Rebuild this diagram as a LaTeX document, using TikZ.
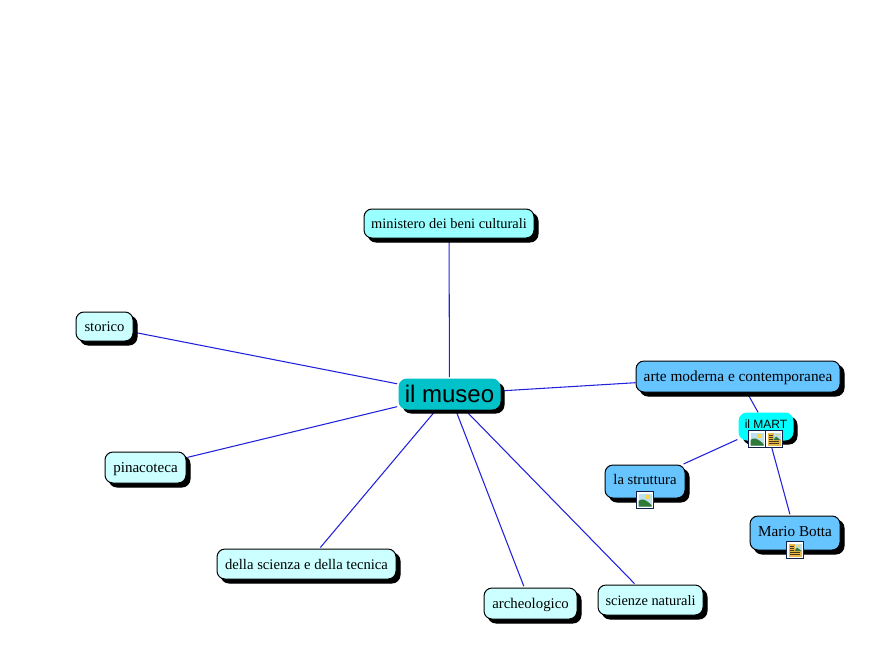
\documentclass[tikz,border=0pt]{standalone}
\usepackage{fontspec}
\setmainfont{Liberation Serif}
\newfontfamily\sansf{Liberation Sans}
\usetikzlibrary{shadows,backgrounds}
\definecolor{cLight}{HTML}{CCFFFF}
\definecolor{cMin}{HTML}{99FFFF}
\definecolor{cBlue}{HTML}{66C4FF}
\definecolor{cCore}{HTML}{00C2C8}
\definecolor{cMart}{HTML}{00FFFF}
\definecolor{cEdge}{HTML}{2222DD}
\definecolor{cNavy}{HTML}{10204A}
\definecolor{cSky}{HTML}{BFE0F0}
\definecolor{cHill}{HTML}{2F7A3A}
\definecolor{cSun}{HTML}{F5D94A}
\definecolor{cDoc}{HTML}{E8B84A}
\newcommand\lab[2]{\raisebox{#1}[0pt][0pt]{#2}}
\newcommand\fs[1]{\fontsize{#1}{13pt}\selectfont}
\tikzset{
  x=0.75pt,y=-0.75pt,
  mapbox/.style={rounded corners=6pt,inner sep=0pt,draw=black,line width=0.75pt,
    copy shadow={shadow xshift=3pt,shadow yshift=-3pt,fill=black,draw=black},
    font=\fs{10.5pt}},
  light/.style={mapbox,fill=cLight},
  blue/.style={mapbox,fill=cBlue},
  link/.style={draw=cEdge,line width=0.8pt},
  iconbox/.style={draw=cNavy,fill=white,line width=1.1pt,minimum width=12.5pt,minimum height=12.5pt,inner sep=0pt},
  pics/landscape/.style={code={
    \fill[cSky] (-6.5,-6.5) rectangle (6.5,6.5);
    \fill[cSun] (2.5,-3) circle (2.4);
    \fill[cHill] (-6.5,6.5) -- (-6.5,1) .. controls (-3,-2) and (0,-1) .. (6.5,5) -- (6.5,6.5) -- cycle;
  }},
  pics/document/.style={code={
    \fill[cDoc] (-6.5,-6.5) rectangle (6.5,6.5);
    \fill[cSky] (-0.5,-6.5) rectangle (6.5,1);
    \fill[cSun] (3.5,-4) circle (1.4);
    \fill[cHill] (-0.5,1) -- (2,-2.5) -- (6.5,1) -- cycle;
    \draw[black!70!cDoc,line width=0.45pt] (-5,-4) -- (-1.5,-4) (-5,-2) -- (-1.5,-2) (-5,0) -- (-1.5,0) (-5,2.5) -- (5,2.5) (-5,4.5) -- (5,4.5);
  }},
}
\begin{document}
\begin{tikzpicture}
\useasboundingbox (0,0) rectangle (880,660);
\node[mapbox,fill=cMin,minimum width=127.5pt,minimum height=21.75pt,font=\fs{10.8pt}] (min) at (449,223.5) {\lab{-4pt}{ministero dei beni culturali}};
\node[light,minimum width=42.75pt,minimum height=21.75pt,font=\fs{11pt}] (sto) at (104.5,326.5) {\lab{-4pt}{storico}};
\node[light,minimum width=60.75pt,minimum height=23.25pt,font=\fs{11.3pt}] (pin) at (145.5,467.5) {\lab{-4pt}{pinacoteca}};
\node[light,minimum width=134.25pt,minimum height=22.5pt,font=\fs{11pt}] (sci) at (306.5,564) {\lab{-4.2pt}{della scienza e della tecnica}};
\node[light,minimum width=69.75pt,minimum height=23.25pt,font=\fs{11.1pt}] (arc) at (530.5,603.5) {\lab{-4pt}{archeologico}};
\node[light,minimum width=78.75pt,minimum height=22.5pt,font=\fs{10.8pt}] (nat) at (650.5,600) {\lab{-4pt}{scienze naturali}};
\node[mapbox,fill=cCore,draw=cCore,minimum width=75.75pt,minimum height=22.5pt,font=\sansf\fs{18pt}] (mus) at (449.5,394) {\lab{-6pt}{il museo}};
\node[blue,minimum width=153pt,minimum height=23.25pt,font=\fs{11.5pt}] (art) at (738,376.5) {\lab{-4pt}{arte moderna e contemporanea}};
\node[mapbox,fill=cMart,draw=cMart,minimum width=40.5pt,minimum height=20.25pt,font=\sansf\fs{9pt}] (mar) at (766,426.5) {\lab{-1.2pt}{il MART}};
\node[blue,minimum width=60pt,minimum height=24.75pt,font=\fs{11pt}] (str) at (645,481.5) {\lab{-2.4pt}{la struttura}};
\node[blue,minimum width=67.5pt,minimum height=25.5pt,font=\fs{11.4pt}] (bot) at (795,533) {\lab{-2.6pt}{Mario Botta}};
\node[iconbox] (i1) at (757,439) {}; \pic at (i1.center) {landscape};
\node[iconbox] (i2) at (774,439) {}; \pic at (i2.center) {document};
\node[iconbox] (i3) at (645,500) {}; \pic at (i3.center) {landscape};
\node[iconbox] (i4) at (795,550) {}; \pic at (i4.center) {document};
\begin{scope}[on background layer]
\draw[link,shorten >=1pt,shorten <=1pt] (mus) -- (min);
\draw[link,shorten >=1pt,shorten <=1pt] (mus) -- (sto);
\draw[link,shorten >=1pt,shorten <=1pt] (mus) -- (pin);
\draw[link,shorten >=1pt,shorten <=1pt] (mus) -- (sci);
\draw[link,shorten >=1pt,shorten <=1pt] (mus) -- (arc);
\draw[link,shorten >=1pt,shorten <=1pt] (mus) -- (nat);
\draw[link] (mus) -- (art);
\draw[link] (art) -- (mar);
\draw[link,shorten >=1pt,shorten <=1pt] (mar) -- (str);
\draw[link,shorten >=1pt,shorten <=1pt] (mar) -- (bot);
\end{scope}
\end{tikzpicture}
\end{document}
